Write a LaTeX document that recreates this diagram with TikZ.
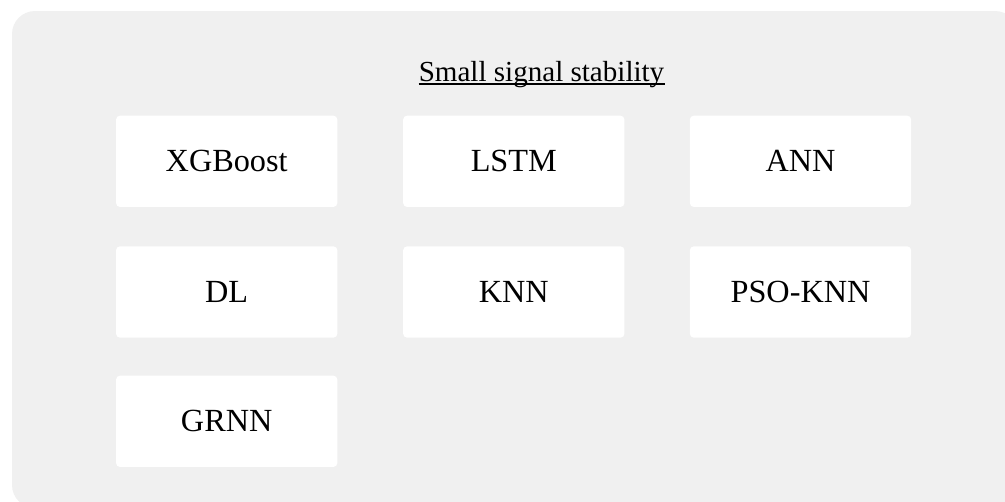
\documentclass[tikz,border=0pt]{standalone}
\usepackage{fontspec}
\setmainfont{Liberation Serif}
\definecolor{panel}{HTML}{F0F0F0}
\begin{document}
\begin{tikzpicture}[x=0.75pt,y=-0.75pt,
  model/.style={fill=white,rounded corners=3pt,minimum width=166pt,minimum height=68.5pt,
    inner sep=0pt,font=\fontsize{24.2}{28}\selectfont,text=black},
  heading/.style={inner sep=0pt,font=\fontsize{21.8}{26}\selectfont,text=black}]
\useasboundingbox (0,0) rectangle (1005,501);
% grey panel, running past the right and lower edges
\fill[panel,rounded corners=17.25pt] (12,11) rectangle (1018,508);
% title with underline
\node[heading,anchor=base] (title) at (541.5,81) {Small signal stability};
\draw[line width=1.5pt] ([yshift=-2.6pt]title.base west) -- ([yshift=-2.6pt]title.base east);
% model boxes
\node[model] (xgb)  at (226.7,161.3) {XGBoost};
\node[model] (lstm) at (513.8,161.3) {LSTM};
\node[model] (ann)  at (800.5,161.3) {ANN};
\node[model] (dl)   at (226.7,292)   {DL};
\node[model] (knn)  at (513.8,292)   {KNN};
\node[model] (pso)  at (800.5,292)   {PSO-KNN};
\node[model] (grnn) at (226.7,421.3) {GRNN};
\end{tikzpicture}
\end{document}
